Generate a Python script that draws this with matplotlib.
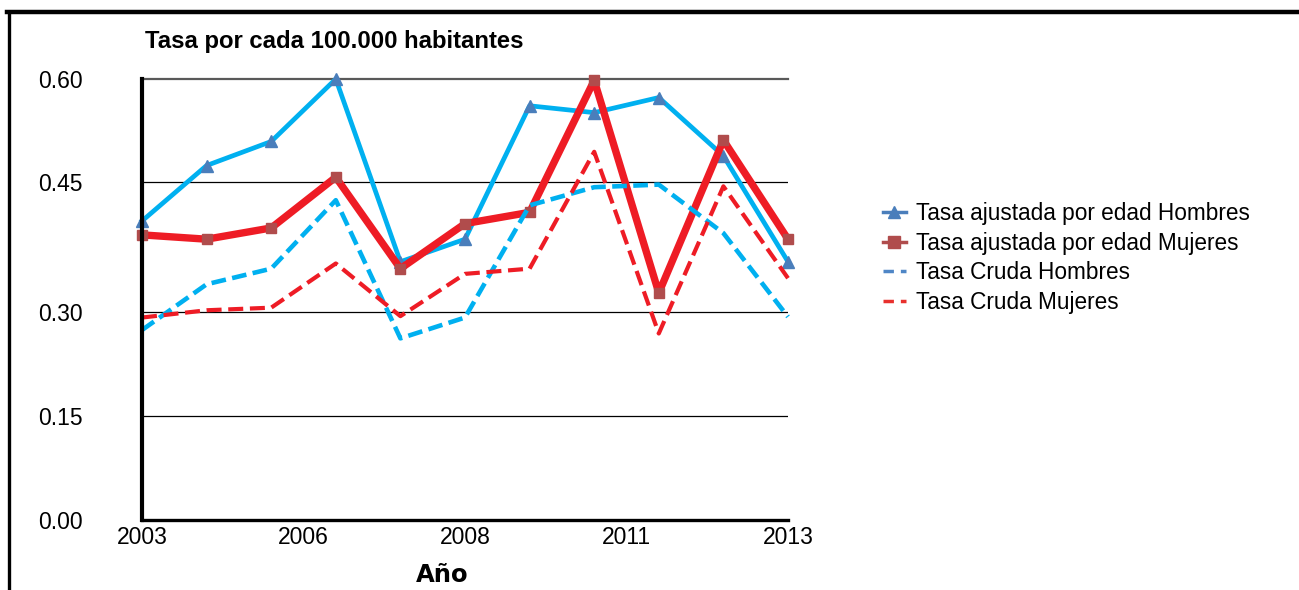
import numpy as np
import matplotlib
matplotlib.use("Agg")
import matplotlib.pyplot as plt
from matplotlib.lines import Line2D

# --- data -------------------------------------------------------------
years = list(range(2003, 2014))
tick_pos = [2003, 2005.5, 2008, 2010.5, 2013]
tick_labels = ["2003", "2006", "2008", "2011", "2013"]

ajustada_hombres = [0.405, 0.474, 0.509, 0.600, 0.358, 0.384, 0.561, 0.551, 0.573, 0.488, 0.358]
ajustada_mujeres = [0.389, 0.384, 0.397, 0.457, 0.350, 0.402, 0.415, 0.598, 0.322, 0.511, 0.384]
cruda_hombres = [0.274, 0.332, 0.350, 0.429, 0.262, 0.292, 0.423, 0.444, 0.447, 0.391, 0.293]
cruda_mujeres = [0.292, 0.302, 0.305, 0.356, 0.294, 0.344, 0.350, 0.494, 0.269, 0.445, 0.339]

y_ticks = [0.00, 0.15, 0.30, 0.45, 0.60]
y_tick_labels = ["0.00", "0.15", "0.30", "0.45", "0.60"]
# uneven spacing of the value axis (relative heights of each band)
y_band_pos = [0, 104, 208, 338, 441]

labels = ["Tasa ajustada por edad Hombres", "Tasa ajustada por edad Mujeres",
          "Tasa Cruda Hombres", "Tasa Cruda Mujeres"]

# --- colours ----------------------------------------------------------
SKY = "#00b0f0"
RED = "#ee1c25"
TRI = "#4a7ebb"
SQR = "#b04c4c"
LEG_BLUE = "#4f86c6"
LEG_RED = "#e8302d"

plt.rcParams["font.family"] = ["Liberation Sans", "DejaVu Sans"]

W, H = 1299, 590
fig = plt.figure(figsize=(W / 100, H / 100), dpi=100)
ax = fig.add_axes([142 / W, 1 - 520 / H, (788 - 142) / W, (520 - 79) / H])


def fwd(v):
    return np.interp(v, y_ticks, y_band_pos)


def inv(p):
    return np.interp(p, y_band_pos, y_ticks)


ax.set_yscale("function", functions=(fwd, inv))
ax.set_ylim(0, 0.60)
ax.set_xlim(2003, 2013)

ax.plot(years, ajustada_hombres, color=SKY, lw=3.4, marker="^", ms=8.5,
        mfc=TRI, mec=TRI, clip_on=False, zorder=3)
ax.plot(years, ajustada_mujeres, color=RED, lw=5.3, marker="s", ms=7.5,
        mfc=SQR, mec=SQR, clip_on=False, zorder=4)
ax.plot(years, cruda_hombres, color=SKY, lw=3.3, ls=(0, (3.2, 1.4)),
        clip_on=False, zorder=5)
ax.plot(years, cruda_mujeres, color=RED, lw=3.0, ls=(0, (3.6, 1.6)),
        clip_on=False, zorder=6)

# grid lines
for v in y_ticks[1:4]:
    ax.axhline(v, color="black", lw=0.9, zorder=1)
ax.axhline(0.60, color="#595959", lw=1.6, zorder=1, clip_on=False)

ax.set_yticks(y_ticks)
ax.set_yticklabels(y_tick_labels)
ax.set_xticks(tick_pos)
ax.set_xticklabels(tick_labels)
ax.tick_params(axis="both", length=0, labelsize=16.5, colors="black")
ax.tick_params(axis="y", pad=43)
ax.tick_params(axis="x", pad=4)
ax.minorticks_off()

for s in ("top", "right"):
    ax.spines[s].set_visible(False)
ax.spines["left"].set_linewidth(3.0)
ax.spines["bottom"].set_linewidth(2.4)
ax.spines["left"].set_zorder(7)
ax.spines["bottom"].set_zorder(7)

fig.text(145 / W, 1 - 48 / H, "Tasa por cada 100.000 habitantes",
         fontsize=17.2, fontweight="bold", ha="left", va="baseline")
fig.text(442 / W, 1 - 582 / H, "Año", fontsize=17.5, fontweight="heavy",
         family=["DejaVu Sans"], ha="center", va="baseline")

handles = [
    Line2D([], [], color=TRI, lw=2.5, marker="^", ms=9, mfc=TRI, mec=TRI),
    Line2D([], [], color=SQR, lw=2.5, marker="s", ms=9, mfc=SQR, mec=SQR),
    Line2D([], [], color=LEG_BLUE, lw=2.5, ls=(0, (3, 2))),
    Line2D([], [], color=LEG_RED, lw=2.5, ls=(0, (3, 2))),
]
fig.legend(handles, labels, loc="center left",
           bbox_to_anchor=(883 / W, 1 - 258 / H), frameon=False,
           fontsize=16.3, handlelength=1.0, handletextpad=0.45,
           labelspacing=0.3, borderpad=0, borderaxespad=0)

# outer frame
fig.add_artist(Line2D([7 / W, 1], [1 - 12 / H, 1 - 12 / H], color="black",
                      lw=3.2, transform=fig.transFigure))
fig.add_artist(Line2D([8.5 / W, 8.5 / W], [0, 1 - 12 / H], color="black",
                      lw=2.4, transform=fig.transFigure))

fig.savefig("out.png", dpi=100)
